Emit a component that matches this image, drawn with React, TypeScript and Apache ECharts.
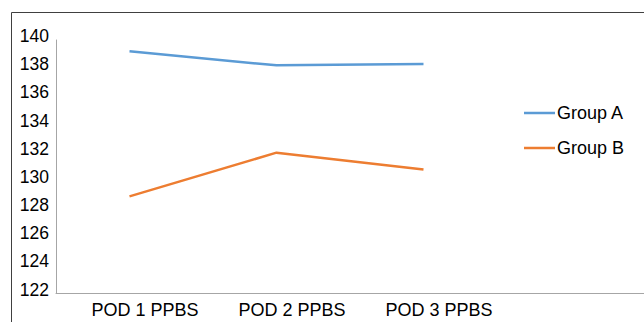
import React, { useEffect, useRef } from "react";
import * as echarts from "echarts";

const categories = ["POD 1 PPBS", "POD 2 PPBS", "POD 3 PPBS", ""];
const groupA = [139.2, 138.2, 138.3, null];
const groupB = [128.9, 132.0, 130.8, null];
const seriesNames = ["Group A", "Group B"];
const colors = ["#5B9BD5", "#ED7D31"];

const FONT = "'Liberation Sans', Arial, sans-serif";

export default function App() {
  const ref = useRef<HTMLDivElement>(null);

  useEffect(() => {
    if (!ref.current) return;
    const chart = echarts.init(ref.current, undefined, { renderer: "svg" });
    chart.setOption({
      animation: false,
      backgroundColor: "#ffffff",
      textStyle: { fontFamily: FONT },
      graphic: [
        {
          type: "rect",
          shape: { x: 11.5, y: 12.5, width: 700, height: 400 },
          style: { fill: "none", stroke: "#404040", lineWidth: 1 },
          silent: true,
          z: -1,
        },
      ],
      grid: { left: 56, top: 40, width: 591, height: 253.5, containLabel: false },
      legend: {
        orient: "vertical",
        left: 524,
        top: 104,
        padding: 0,
        icon: "rect",
        itemWidth: 31,
        itemHeight: 2.5,
        itemGap: 17,
        textStyle: { fontFamily: FONT, fontSize: 18, color: "#000", padding: [0, 0, 0, -3] },
        data: seriesNames,
      },
      xAxis: {
        type: "category",
        data: categories,
        boundaryGap: true,
        axisLine: { lineStyle: { color: "#a6a6a6", width: 1 } },
        axisTick: { show: false },
        splitLine: { show: false },
        axisLabel: {
          interval: 0,
          fontFamily: FONT,
          fontSize: 18,
          color: "#000",
          margin: 7,
          padding: [0, 0, 0, 31],
        },
      },
      yAxis: {
        type: "value",
        min: 122,
        max: 140,
        interval: 2,
        axisLine: { show: true, lineStyle: { color: "#a6a6a6", width: 1 } },
        axisTick: { show: false },
        splitLine: { show: false },
        axisLabel: {
          color: "#000",
          margin: 7,
          formatter: "{v|{value}}",
          rich: {
            v: {
              fontFamily: FONT,
              fontSize: 17.5,
              color: "#000",
              padding: [0, 0, 8, 0],
            },
          },
        },
      },
      series: [
        {
          name: seriesNames[0],
          type: "line",
          data: groupA,
          symbol: "none",
          lineStyle: { color: colors[0], width: 2.5 },
          itemStyle: { color: colors[0] },
        },
        {
          name: seriesNames[1],
          type: "line",
          data: groupB,
          symbol: "none",
          lineStyle: { color: colors[1], width: 2.5 },
          itemStyle: { color: colors[1] },
        },
      ],
    });
    return () => chart.dispose();
  }, []);

  return (
    <div
      ref={ref}
      style={{ position: "fixed", left: 0, top: 0, width: 644, height: 322 }}
    />
  );
}
